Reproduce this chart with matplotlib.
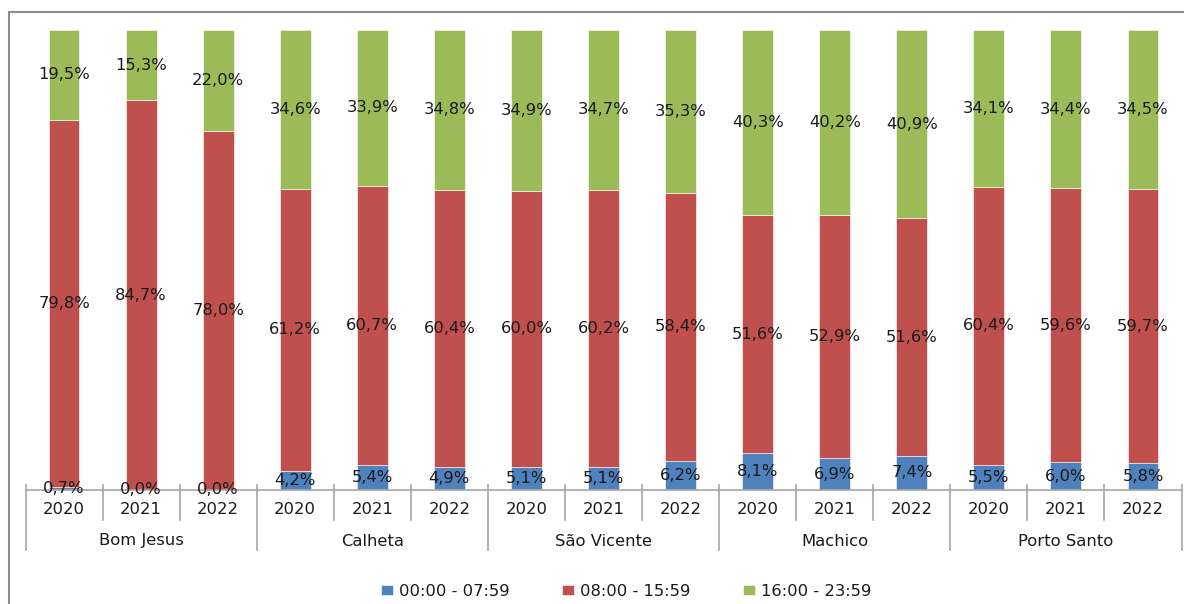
import matplotlib
matplotlib.use("Agg")
import matplotlib.pyplot as plt
from matplotlib.lines import Line2D
import numpy as np

groups = ["Bom Jesus", "Calheta", "São Vicente", "Machico", "Porto Santo"]
years = ["2020", "2021", "2022"]
series_names = ["00:00 - 07:59", "08:00 - 15:59", "16:00 - 23:59"]
night = [0.7, 0.0, 0.0, 4.2, 5.4, 4.9, 5.1, 5.1, 6.2, 8.1, 6.9, 7.4, 5.5, 6.0, 5.8]
day = [79.8, 84.7, 78.0, 61.2, 60.7, 60.4, 60.0, 60.2, 58.4, 51.6, 52.9, 51.6, 60.4, 59.6, 59.7]
evening = [19.5, 15.3, 22.0, 34.6, 33.9, 34.8, 34.9, 34.7, 35.3, 40.3, 40.2, 40.9, 34.1, 34.4, 34.5]
colors = ["#4F81BD", "#C0504D", "#9BBB59"]

data = np.array([night, day, evening])
totals = data.sum(axis=0)
pct = data / totals * 100

W, H = 1184, 604
fig = plt.figure(figsize=(W / 100, H / 100), dpi=100)
ax = fig.add_axes([25.5 / W, 1 - 490 / H, 1156 / W, 460 / H])

n = len(night)
x = np.arange(n)
bottom = np.zeros(n)
fs = 11.8
tc = "#1a1a1a"
for i in range(3):
    ax.bar(x, pct[i], bottom=bottom, width=0.40, color=colors[i],
           edgecolor="white", linewidth=0.4, label=series_names[i], zorder=2)
    for j in range(n):
        ax.text(x[j], bottom[j] + pct[i][j] / 2, f"{data[i][j]:.1f}".replace(".", ",") + "%",
                ha="center", va="center", fontsize=fs, color=tc, zorder=5)
    bottom += pct[i]

ax.set_xlim(-0.5, n - 0.5)
ax.set_ylim(0, 100)
for s in ["top", "right", "left"]:
    ax.spines[s].set_visible(False)
ax.spines["bottom"].set_color("#a6a6a6")
ax.spines["bottom"].set_linewidth(1.2)
ax.set_xticks([])
ax.set_yticks([])

tr = ax.get_xaxis_transform()
px = 1 / 460
# separators
for k in range(n + 1):
    pos = k - 0.5
    if k % 3 == 0:
        y0 = -60 * px
    else:
        y0 = -30 * px
    ax.add_line(Line2D([pos, pos], [5 * px, y0], transform=tr, color="#a6a6a6",
                       linewidth=1.2, clip_on=False))
for j in range(n):
    ax.text(x[j], -20 * px, years[j % 3], transform=tr, ha="center", va="center",
            fontsize=fs, color=tc)
for g, name in enumerate(groups):
    ax.text(3 * g + 1, -51 * px, name, transform=tr, ha="center", va="center",
            fontsize=fs, color=tc)

# outer frame (left and top)
fig.add_artist(Line2D([9 / W, 9 / W], [0, 1 - 12 / H], transform=fig.transFigure,
                      color="#8c8c8c", linewidth=1.5))
fig.add_artist(Line2D([9 / W, 1], [1 - 12 / H, 1 - 12 / H], transform=fig.transFigure,
                      color="#8c8c8c", linewidth=1.5))

fig.legend(loc="center", bbox_to_anchor=(626 / W, 1 - 591 / H), ncol=3, frameon=False,
           fontsize=fs, handlelength=0.75, handleheight=0.6, handletextpad=0.35,
           columnspacing=3.2, labelcolor=tc)

fig.savefig("out.png", dpi=100)
